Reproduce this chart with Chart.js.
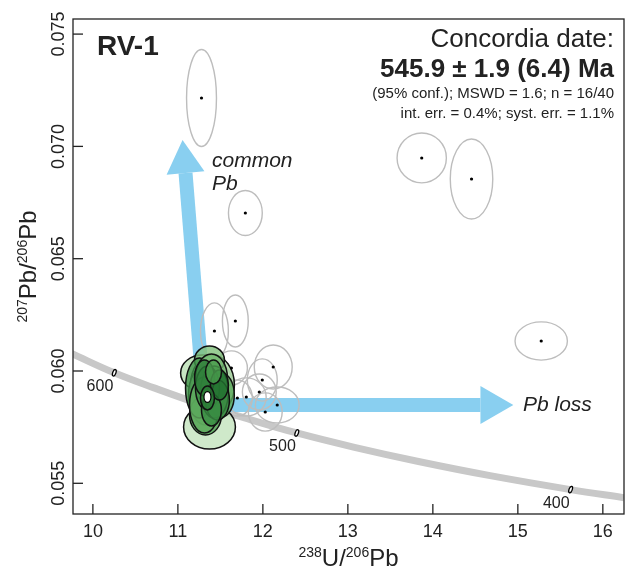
<!DOCTYPE html>
<html>
<head>
<meta charset="utf-8">
<script src="https://cdn.jsdelivr.net/npm/chart.js@4.4.1/dist/chart.umd.min.js"></script>
<style>
html, body { margin: 0; padding: 0; background: #fff; }
canvas { display: block; }
</style>
</head>
<body>
<canvas id="chart" width="628" height="573"></canvas>
<script>
// axis ticks
var xTicks = [10, 11, 12, 13, 14, 15, 16];
var yTicks = [0.055, 0.060, 0.065, 0.070, 0.075];

// concordia curve (238U/206Pb, 207Pb/206Pb) and age marks
var concX = [9.743, 10.252, 10.719, 11.228, 11.786, 12.399, 13.078, 13.831, 14.674, 15.621, 16.249];
var concY = [0.06079, 0.05992, 0.05925, 0.05857, 0.05791, 0.05724, 0.05660, 0.05597, 0.05534, 0.05472, 0.05436];
var markAge = [600, 500, 400];
var markX = [10.252, 12.399, 15.621];
var markY = [0.05992, 0.05724, 0.05472];

// rejected analyses (grey ellipses): centre and half axes
var greyX = [11.278, 11.794, 13.869, 14.455, 15.275, 11.430, 11.676, 12.122, 11.993, 11.958, 11.805, 12.169, 12.028, 11.630, 11.700, 11.477];
var greyY = [0.072155, 0.067035, 0.069484, 0.068549, 0.061336, 0.061781, 0.062226, 0.060178, 0.059599, 0.059065, 0.058842, 0.058486, 0.058175, 0.060134, 0.058798, 0.059421];
var greySx = [0.176, 0.199, 0.290, 0.250, 0.308, 0.164, 0.152, 0.223, 0.176, 0.199, 0.234, 0.258, 0.199, 0.188, 0.176, 0.164];
var greySy = [0.00216, 0.00100, 0.00111, 0.00178, 0.00085, 0.00125, 0.00116, 0.00098, 0.00094, 0.00080, 0.00085, 0.00080, 0.00085, 0.00076, 0.00080, 0.00089];

// accepted analyses (green ellipses), drawn in this order
var greenX = [11.372, 11.290, 11.407, 11.336, 11.372, 11.325, 11.254, 11.395, 11.313, 11.512, 11.430, 11.348, 11.465, 11.313, 11.395, 11.489, 11.348, 11.419];
var greenY = [0.057507, 0.059911, 0.059377, 0.058931, 0.060490, 0.058041, 0.059243, 0.059688, 0.058486, 0.058931, 0.059065, 0.059243, 0.058709, 0.059688, 0.058264, 0.059377, 0.058798, 0.059955];
var greenSx = [0.305, 0.258, 0.258, 0.211, 0.176, 0.188, 0.164, 0.188, 0.176, 0.152, 0.164, 0.141, 0.141, 0.117, 0.117, 0.106, 0.082, 0.094];
var greenSy = [0.00098, 0.00080, 0.00134, 0.00134, 0.00062, 0.00089, 0.00134, 0.00107, 0.00125, 0.00098, 0.00116, 0.00098, 0.00089, 0.00080, 0.00071, 0.00067, 0.00053, 0.00053];

// concordia age ellipse
var dateX = 11.348, dateY = 0.058842, dateSx = 0.041, dateSy = 0.00024;

var greenFill = ['#c3e3bd', '#b9dfb3', '#a5d49e', '#8fc889', '#7fbf7a', '#4f9f51', '#3f9247', '#76ba73', '#62ae60', '#5aa85a', '#4f9f51', '#3f9247', '#35873e', '#2c7c37', '#3a8d43', '#22702f', '#2b7a36', '#4a9c4e'];
var blue = 'rgb(137,207,240)';
var font = "'Liberation Sans', Arial, sans-serif";

var arrows = [
  { from: [11.301, 0.058931], head: [11.090, 0.068816], tip: [11.055, 0.070285] },
  { from: [11.254, 0.058486], head: [14.560, 0.058486], tip: [14.947, 0.058486] }
];

function ellipsePath(ctx, xs, ys, x, y, sx, sy) {
  var cx = xs.getPixelForValue(x), cy = ys.getPixelForValue(y);
  var rx = Math.abs(xs.getPixelForValue(x + sx) - cx);
  var ry = Math.abs(ys.getPixelForValue(y + sy) - cy);
  ctx.beginPath();
  ctx.ellipse(cx, cy, rx, ry, 0, 0, Math.PI * 2);
}

function drawArrow(ctx, xs, ys, a) {
  var x0 = xs.getPixelForValue(a.from[0]), y0 = ys.getPixelForValue(a.from[1]);
  var xh = xs.getPixelForValue(a.head[0]), yh = ys.getPixelForValue(a.head[1]);
  var xt = xs.getPixelForValue(a.tip[0]), yt = ys.getPixelForValue(a.tip[1]);
  ctx.strokeStyle = blue;
  ctx.lineWidth = 14;
  ctx.lineCap = 'butt';
  ctx.beginPath();
  ctx.moveTo(x0, y0);
  ctx.lineTo(xh, yh);
  ctx.stroke();
  var dx = xt - xh, dy = yt - yh, len = Math.sqrt(dx * dx + dy * dy);
  var nx = -dy / len * 19, ny = dx / len * 19;
  ctx.fillStyle = blue;
  ctx.beginPath();
  ctx.moveTo(xh + nx, yh + ny);
  ctx.lineTo(xt, yt);
  ctx.lineTo(xh - nx, yh - ny);
  ctx.closePath();
  ctx.fill();
}

// text with superscripts, centred on (0,0)
function supText(ctx, parts, size, supSize) {
  var total = 0;
  parts.forEach(function (p) {
    ctx.font = (p.sup ? supSize : size) + 'px ' + font;
    p.w = ctx.measureText(p.t).width;
    total += p.w;
  });
  var x = -total / 2;
  ctx.textAlign = 'left';
  ctx.textBaseline = 'alphabetic';
  parts.forEach(function (p) {
    ctx.font = (p.sup ? supSize : size) + 'px ' + font;
    ctx.fillText(p.t, x, p.sup ? -9 : 0);
    x += p.w;
  });
}

var marksPlugin = {
  id: 'marks',
  beforeDatasetDraw: function (chart, args) {
    if (args.index !== 0) return;
    var ctx = chart.ctx, xs = chart.scales.x, ys = chart.scales.y, a = chart.chartArea;
    ctx.save();
    ctx.beginPath();
    ctx.rect(a.left, a.top, a.right - a.left, a.bottom - a.top);
    ctx.clip();

    arrows.forEach(function (ar) { drawArrow(ctx, xs, ys, ar); });

    // age marks on concordia
    ctx.font = '16px ' + font;
    ctx.textAlign = 'right';
    ctx.textBaseline = 'alphabetic';
    markAge.forEach(function (age, i) {
      var px = xs.getPixelForValue(markX[i]), py = ys.getPixelForValue(markY[i]);
      ctx.beginPath();
      ctx.ellipse(px, py, 1.6, 3.4, 0.35, 0, Math.PI * 2);
      ctx.fillStyle = '#fff';
      ctx.fill();
      ctx.strokeStyle = '#000';
      ctx.lineWidth = 1.3;
      ctx.stroke();
      ctx.fillStyle = '#222';
      ctx.fillText(String(age), px - 1, py + 18);
    });

    // grey ellipses
    ctx.strokeStyle = '#bdbdbd';
    ctx.lineWidth = 1.4;
    greyX.forEach(function (x, i) {
      ellipsePath(ctx, xs, ys, x, greyY[i], greySx[i], greySy[i]);
      ctx.stroke();
    });

    // green ellipses
    greenX.forEach(function (x, i) {
      ellipsePath(ctx, xs, ys, x, greenY[i], greenSx[i], greenSy[i]);
      ctx.globalAlpha = 0.8;
      ctx.fillStyle = greenFill[i];
      ctx.fill();
      ctx.globalAlpha = 1;
      ctx.strokeStyle = '#111';
      ctx.lineWidth = 1.5;
      ctx.stroke();
    });

    ellipsePath(ctx, xs, ys, dateX, dateY, dateSx, dateSy);
    ctx.fillStyle = '#fff';
    ctx.fill();
    ctx.strokeStyle = '#000';
    ctx.lineWidth = 1.2;
    ctx.stroke();
    ctx.restore();
  },
  afterDraw: function (chart) {
    var ctx = chart.ctx, xs = chart.scales.x, ys = chart.scales.y, a = chart.chartArea;
    ctx.save();
    // frame
    ctx.strokeStyle = '#222';
    ctx.lineWidth = 1.3;
    ctx.strokeRect(a.left, a.top, a.right - a.left, a.bottom - a.top);

    ctx.fillStyle = '#222';
    ctx.font = '18px ' + font;
    ctx.textAlign = 'center';
    ctx.textBaseline = 'alphabetic';
    xTicks.forEach(function (v) {
      var px = xs.getPixelForValue(v);
      ctx.beginPath();
      ctx.moveTo(px, a.bottom);
      ctx.lineTo(px, a.bottom - 10);
      ctx.stroke();
      ctx.fillText(String(v), px, a.bottom + 23);
    });
    yTicks.forEach(function (v) {
      var py = ys.getPixelForValue(v);
      ctx.beginPath();
      ctx.moveTo(a.left, py);
      ctx.lineTo(a.left + 10, py);
      ctx.stroke();
      ctx.save();
      ctx.translate(64, py);
      ctx.rotate(-Math.PI / 2);
      ctx.fillText(v.toFixed(3), 0, 0);
      ctx.restore();
    });

    // axis titles
    ctx.save();
    ctx.translate((a.left + a.right) / 2, 566);
    supText(ctx, [{ t: '238', sup: true }, { t: 'U/', sup: false }, { t: '206', sup: true }, { t: 'Pb', sup: false }], 24, 14);
    ctx.restore();
    ctx.save();
    ctx.translate(36, (a.top + a.bottom) / 2);
    ctx.rotate(-Math.PI / 2);
    supText(ctx, [{ t: '207', sup: true }, { t: 'Pb/', sup: false }, { t: '206', sup: true }, { t: 'Pb', sup: false }], 24, 14);
    ctx.restore();

    // annotations
    ctx.textAlign = 'left';
    ctx.font = 'bold 28px ' + font;
    ctx.fillText('RV-1', 97, 55);
    ctx.font = 'italic 21px ' + font;
    ctx.fillText('common', 212, 167);
    ctx.fillText('Pb', 212, 190);
    ctx.textBaseline = 'middle';
    ctx.fillText('Pb loss', 523, 405);

    ctx.textBaseline = 'alphabetic';
    ctx.textAlign = 'right';
    ctx.font = '26px ' + font;
    ctx.fillText('Concordia date:', 614, 47);
    ctx.font = 'bold 26px ' + font;
    ctx.fillText('545.9 \u00b1 1.9 (6.4) Ma', 614, 77);
    ctx.font = '15px ' + font;
    ctx.fillText('(95% conf.); MSWD = 1.6; n = 16/40', 614, 98);
    ctx.fillText('int. err. = 0.4%; syst. err. = 1.1%', 614, 118);
    ctx.restore();
  }
};

new Chart(document.getElementById('chart'), {
  type: 'scatter',
  data: {
    datasets: [
      {
        label: 'centres',
        data: greyX.slice(0, 15).map(function (x, i) { return { x: x, y: greyY[i] }; }),
        pointRadius: 1.6,
        pointBackgroundColor: '#000',
        pointBorderWidth: 0
      },
      {
        label: 'concordia',
        type: 'line',
        data: concX.map(function (x, i) { return { x: x, y: concY[i] }; }),
        borderColor: '#c8c8c8',
        borderWidth: 7,
        pointRadius: 0,
        tension: 0.4,
        fill: false
      }
    ]
  },
  options: {
    responsive: false,
    animation: false,
    layout: { padding: { left: 73, right: 2, top: 19, bottom: 59 } },
    plugins: { legend: { display: false }, tooltip: { enabled: false } },
    scales: {
      x: { type: 'linear', min: 9.766, max: 16.249, display: false },
      y: { type: 'linear', min: 0.053633, max: 0.075672, display: false }
    }
  },
  plugins: [marksPlugin]
});
</script>
</body>
</html>
